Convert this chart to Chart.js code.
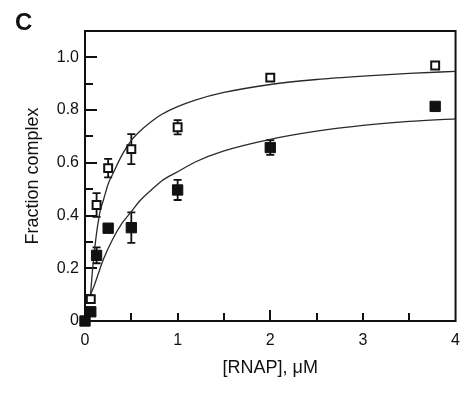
<!DOCTYPE html>
<html>
<head>
<meta charset="utf-8">
<script src="https://cdn.jsdelivr.net/npm/chart.js@4"></script>
<style>
  html, body { margin: 0; padding: 0; background: #fff; }
  #wrap { position: relative; width: 470px; height: 393px; }
  #panel { position: absolute; left: 15px; top: 8px; font: bold 24px "Liberation Sans", Arial, sans-serif; color: #111; }
</style>
</head>
<body>
<div id="wrap">
  <canvas id="c" width="470" height="393"></canvas>
  <div id="panel">C</div>
</div>
<script>
// ---- data ----
const X_OPEN   = [0.0625, 0.125, 0.25, 0.5, 1.0, 2.0, 3.78];
const Y_OPEN   = [0.083, 0.44, 0.58, 0.652, 0.735, 0.923, 0.969];
const ERR_OPEN = [0, 0.045, 0.035, 0.057, 0.027, 0, 0];

const X_FILLED   = [0, 0.0625, 0.125, 0.25, 0.5, 1.0, 2.0, 3.78];
const Y_FILLED   = [0, 0.035, 0.249, 0.352, 0.354, 0.497, 0.658, 0.814];
const ERR_FILLED = [0, 0, 0.03, 0, 0.058, 0.038, 0.028, 0];

// fitted curves
const X_FIT_UPPER = [0.06, 0.08, 0.10, 0.12, 0.14, 0.165, 0.2, 0.25, 0.31, 0.4, 0.5, 0.6, 0.75, 0.83, 1.0, 1.19, 1.5, 2.0, 2.5, 3.0, 3.5, 4.0];
const Y_FIT_UPPER = [0.10, 0.19, 0.26, 0.32, 0.37, 0.42, 0.46, 0.52, 0.565, 0.63, 0.685, 0.722, 0.765, 0.784, 0.813, 0.838, 0.867, 0.897, 0.916, 0.929, 0.939, 0.947];

const X_FIT_LOWER = [0.06, 0.1, 0.15, 0.2, 0.3, 0.4, 0.5, 0.6, 0.75, 0.83, 1.0, 1.19, 1.5, 2.0, 2.5, 3.0, 3.5, 4.0];
const Y_FIT_LOWER = [0.10, 0.135, 0.186, 0.235, 0.311, 0.371, 0.415, 0.459, 0.508, 0.532, 0.566, 0.603, 0.645, 0.689, 0.72, 0.742, 0.757, 0.767];

// axis ticks
const X_LABEL_TICKS = [0, 1, 2, 3, 4];
const X_MARKS = [0.5, 1, 1.5, 2, 2.5, 3, 3.5];
const Y_LABEL_TICKS = [0, 0.2, 0.4, 0.6, 0.8, 1.0];
const Y_MARKS = [0.1, 0.2, 0.3, 0.4, 0.5, 0.6, 0.7, 0.8, 0.9, 1.0];

const X_TITLE = '[RNAP], \u03bcM';
const Y_TITLE = 'Fraction complex';

const toPts = (xs, ys) => xs.map((x, i) => ({x: x, y: ys[i]}));
const INK = '#111';
const FONT = '"Liberation Sans", Arial, sans-serif';

const frame = {
  id: 'frame',
  beforeDatasetsDraw(chart) {
    const {ctx, chartArea: a, scales: {x, y}} = chart;
    ctx.save();
    ctx.strokeStyle = INK;
    ctx.lineWidth = 2;
    ctx.beginPath();
    Y_MARKS.forEach(v => {
      const py = Math.round(y.getPixelForValue(v));
      const major = Y_LABEL_TICKS.some(t => Math.abs(t - v) < 1e-6);
      ctx.moveTo(a.left, py);
      ctx.lineTo(a.left + (major ? 12 : 8), py);
    });
    X_MARKS.forEach(v => {
      const px = Math.round(x.getPixelForValue(v));
      ctx.moveTo(px, a.bottom);
      ctx.lineTo(px, a.bottom - (v === 2 ? 11 : 8));
    });
    ctx.stroke();
    ctx.strokeRect(a.left, a.top, a.right - a.left, a.bottom - a.top);
    // error bars
    ctx.lineWidth = 1.8;
    const bars = (xs, ys, es) => {
      xs.forEach((xv, i) => {
        if (!es[i]) return;
        const px = x.getPixelForValue(xv);
        const p1 = y.getPixelForValue(ys[i] + es[i]);
        const p2 = y.getPixelForValue(ys[i] - es[i]);
        ctx.beginPath();
        ctx.moveTo(px, p1); ctx.lineTo(px, p2);
        ctx.moveTo(px - 4, p1); ctx.lineTo(px + 4, p1);
        ctx.moveTo(px - 4, p2); ctx.lineTo(px + 4, p2);
        ctx.stroke();
      });
    };
    bars(X_OPEN, Y_OPEN, ERR_OPEN);
    bars(X_FILLED, Y_FILLED, ERR_FILLED);
    ctx.restore();
  }
};

new Chart(document.getElementById('c'), {
  type: 'scatter',
  data: {
    datasets: [
      { label: 'fit upper', data: toPts(X_FIT_UPPER, Y_FIT_UPPER), showLine: true, pointRadius: 0,
        borderColor: '#2a2a2a', borderWidth: 1.3, cubicInterpolationMode: 'monotone', order: 3 },
      { label: 'fit lower', data: toPts(X_FIT_LOWER, Y_FIT_LOWER), showLine: true, pointRadius: 0,
        borderColor: '#2a2a2a', borderWidth: 1.3, cubicInterpolationMode: 'monotone', order: 3 },
      { label: 'open', data: toPts(X_OPEN, Y_OPEN), pointStyle: 'rect', pointRadius: 5.6,
        backgroundColor: '#fff', borderColor: INK, borderWidth: 2, clip: false, order: 1 },
      { label: 'filled', data: toPts(X_FILLED, Y_FILLED), pointStyle: 'rect', pointRadius: 7.3,
        backgroundColor: INK, borderColor: INK, borderWidth: 1, clip: false, order: 2 }
    ]
  },
  options: {
    responsive: false,
    animation: false,
    layout: { padding: { left: 0, right: 9, top: 31, bottom: 0 } },
    plugins: { legend: { display: false }, tooltip: { enabled: false } },
    elements: { point: { hoverRadius: 0 } },
    scales: {
      x: {
        type: 'linear', min: 0, max: 4,
        grid: { display: false, drawTicks: false, tickLength: 0 }, border: { display: false },
        afterFit(s) { s.height = 72; },
        afterBuildTicks(s) { s.ticks = X_LABEL_TICKS.map(v => ({value: v})); },
        ticks: { padding: 10, color: INK, font: { family: FONT, size: 16 }, callback: v => String(v) },
        title: { display: true, text: X_TITLE, color: INK, font: { family: FONT, size: 18 }, padding: { top: 0, bottom: 14 } }
      },
      y: {
        type: 'linear', min: 0, max: 1.1,
        grid: { display: false, drawTicks: false, tickLength: 0 }, border: { display: false },
        afterFit(s) { s.width = 85; },
        afterBuildTicks(s) { s.ticks = Y_LABEL_TICKS.map(v => ({value: v})); },
        ticks: { padding: 6, color: INK, font: { family: FONT, size: 16 }, callback: v => (v === 0 ? '0' : v.toFixed(1)) },
        title: { display: true, text: Y_TITLE, color: INK, font: { family: FONT, size: 18 }, padding: { top: 22, bottom: 0 } }
      }
    }
  },
  plugins: [frame]
});
</script>
</body>
</html>
